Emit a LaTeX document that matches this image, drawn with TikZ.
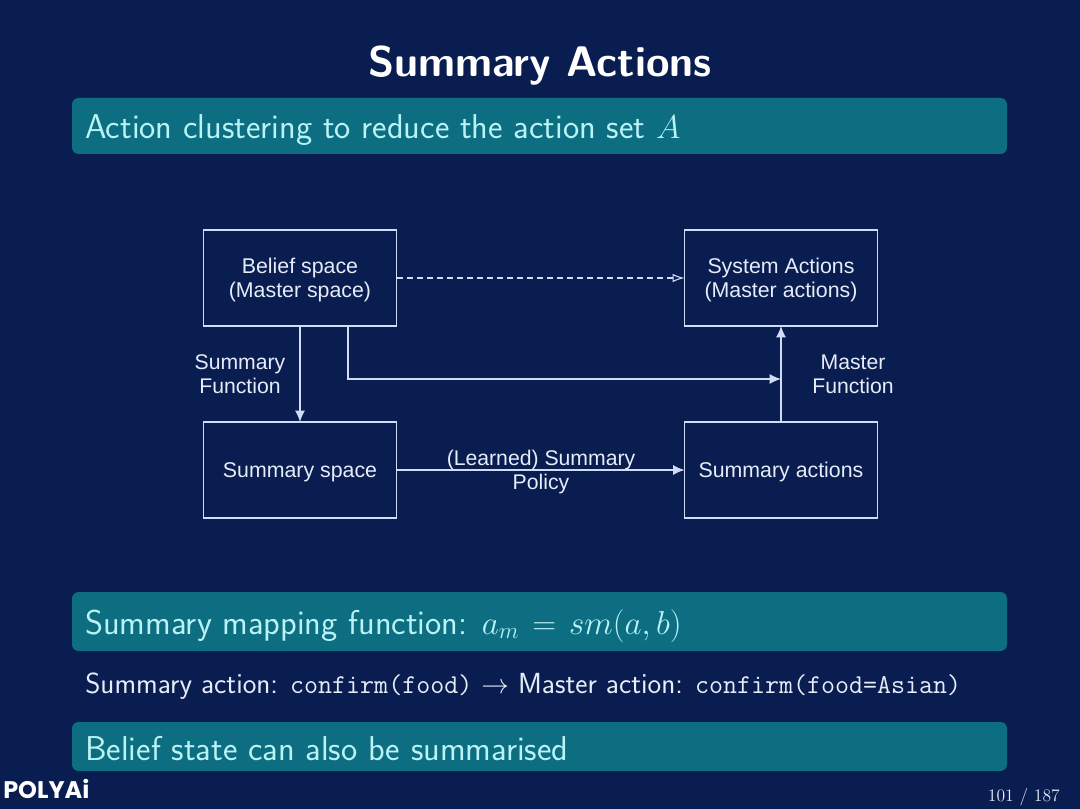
\documentclass[tikz,border=0pt]{standalone}
\usepackage{xcolor}
\usepackage{fontspec}
\usetikzlibrary{positioning,arrows.meta}
\newfontfamily\diagfont{Liberation Sans}
\newfontfamily\logofont{Poppins}
\definecolor{slidebg}{HTML}{0A1D50}
\definecolor{blockbg}{HTML}{0D6E82}
\definecolor{blocktext}{HTML}{B9F3F6}
\definecolor{bodytext}{HTML}{E6ECF8}
\definecolor{linecol}{HTML}{CFDCF4}
\begin{document}
\begin{tikzpicture}[x=0.75pt,y=-0.75pt,
      box/.style={draw=linecol,line width=1.1pt,minimum width=144.75pt,minimum height=72pt,
        inner sep=0pt,outer sep=0pt,align=center,text=bodytext,text depth=0pt,font=\diagfont\fontsize{16}{18}\selectfont},
      caption/.style={align=center,text=bodytext,inner sep=0pt,font=\diagfont\fontsize{15.9}{18}\selectfont},
      link/.style={draw=linecol,line width=1pt,-{Latex[length=8.5pt,width=7.5pt]}},
      dashlink/.style={draw=linecol,line width=0.85pt,dash pattern=on 4.5pt off 3pt,-{Latex[open,length=9pt,width=6.5pt]}},
      band/.style={fill=blockbg,rounded corners=5pt},
      bandtext/.style={anchor=base west,inner sep=0pt,text=blocktext,font=\sffamily\fontsize{25.85}{30}\selectfont}]
      \useasboundingbox (0,0) rectangle (1080,809);
      \fill[slidebg] (0,0) rectangle (1080,809);
      % header and bands
      \node[anchor=base,inner sep=0pt,text=white,font=\sffamily\bfseries\fontsize{32.1}{36}\selectfont] (title) at (540,77) {Summary Actions};
      \fill[band] (72,98) rectangle (1007,154);
      \node[bandtext] (top) at (85,138.5) {Action clustering to reduce the action set $A$};
      \fill[band] (72,592) rectangle (1007,651);
      \node[bandtext] (mapping) at (85,634) {Summary mapping function: $a_m \mkern2mu=\mkern2mu sm(a,b)$};
      \node[anchor=base west,inner sep=0pt,text=bodytext,font=\sffamily\fontsize{21.8}{24}\selectfont] (example) at (85,693)
        {Summary action: {\ttfamily\fontsize{20.4}{24}\selectfont confirm(food)} $\rightarrow$ Master action: {\ttfamily\fontsize{20.4}{24}\selectfont confirm(food=Asian)}};
      \fill[band] (72,722) rectangle (1007,771);
      \node[bandtext] (beliefband) at (85,760) {Belief state can also be summarised};
      % boxes
      \node[box] (belief) at (300,278) {Belief space\\(Master space)};
      \node[box,right=216pt of belief] (system) {System Actions\\(Master actions)};
      \node[box,below=72pt of belief] (sumspace) {Summary space};
      \node[box,below=72pt of system] (sumactions) {Summary actions};
      % connectors
      \coordinate (beliefout) at (348,326);
      \coordinate (bend) at (348,379);
      \coordinate (merge) at (781,379);
      \draw[link] (belief) -- (sumspace);
      \draw[dashlink] (belief) -- (system);
      \draw[link] (sumspace) -- (sumactions);
      \draw[link] (sumactions) -- (system);
      \draw[link] (beliefout) -- (bend) -- (merge);
      % labels
      \node[caption] (sumfn) at (240,374) {Summary\\Function};
      \node[caption] (masterfn) at (853,374) {Master\\Function};
      \node[caption] (policy) at (541,472) {(Learned) Summary\\Policy};
      % footer
      \node[anchor=base west,inner sep=0pt,text=white,font=\logofont\bfseries\fontsize{18}{20}\selectfont] (logo) at (3,798) {POLYAi};
      \node[anchor=base east,inner sep=0pt,text=bodytext,font=\fontsize{13.2}{15}\selectfont] (page) at (1060,801) {101 / 187};
      % \noindent
\end{tikzpicture}
\end{document}
